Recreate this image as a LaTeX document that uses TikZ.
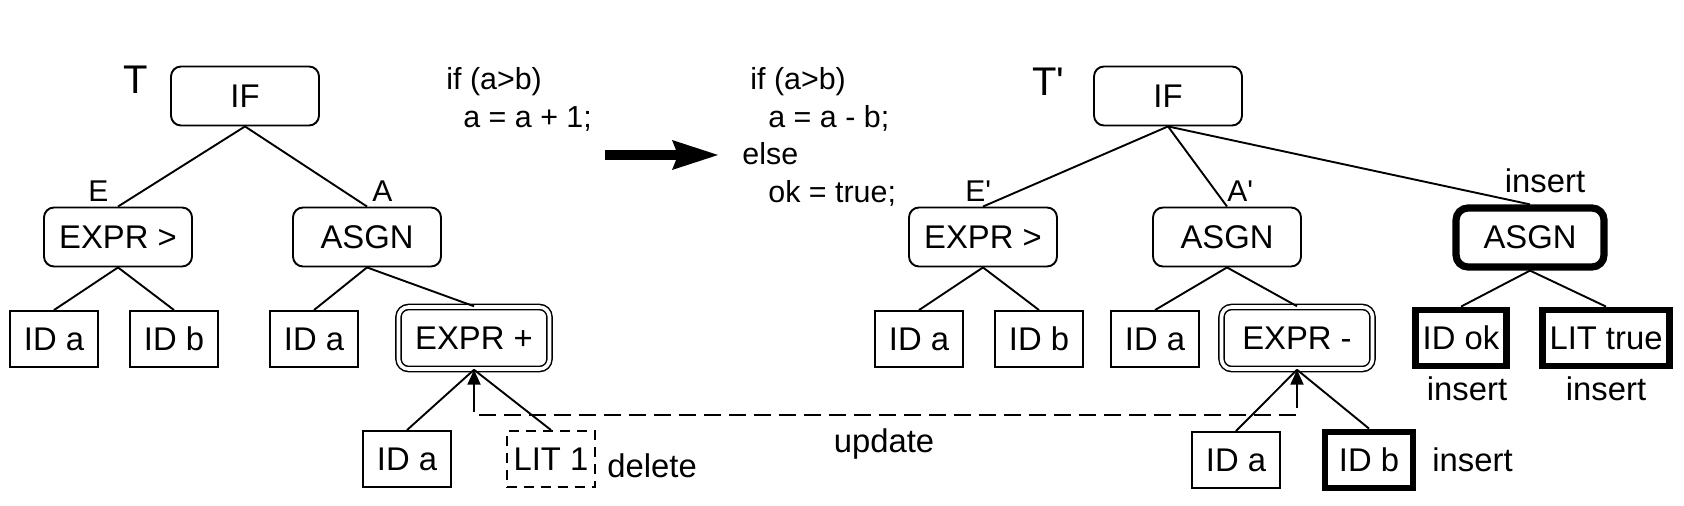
\documentclass[tikz,border=0pt]{standalone}
\usepackage{fontspec}
\newfontfamily\arialf{Liberation Sans}
\usetikzlibrary{arrows.meta}
\tikzset{
  nodefont/.style={font=\arialf\fontsize{16.4}{19}\selectfont},
  lbl/.style={nodefont, inner sep=0pt},
  code/.style={font=\arialf\fontsize{15.2}{18}\selectfont, inner sep=0pt, anchor=base west},
  treelbl/.style={font=\arialf\fontsize{20}{24}\selectfont, inner sep=0pt, anchor=base west},
  edgelbl/.style={font=\arialf\fontsize{15}{18}\selectfont, inner sep=0pt, anchor=base west},
  rbox/.style={draw, nodefont, rounded corners=5pt, line width=0.95pt, minimum width=74pt, minimum height=29.5pt, inner sep=0pt},
  dbox/.style={rbox, double, double distance=1.8pt, line width=0.75pt, minimum width=75.5pt, minimum height=31pt},
  tbox/.style={rbox, line width=3.6pt, rounded corners=6pt},
  sbox/.style={draw, nodefont, line width=0.95pt, minimum width=44pt, minimum height=28pt, inner xsep=3.5pt, inner ysep=0pt},
  sthick/.style={sbox, line width=3.4pt},
  sdash/.style={sbox, dash pattern=on 5pt off 3.5pt},
  treeedge/.style={line width=0.95pt},
  updline/.style={line width=0.95pt, dash pattern=on 8.5pt off 4pt},
  updarrow/.style={line width=1.1pt, solid, -{Triangle[length=7.5pt,width=6.5pt]}},
}
\begin{document}
\begin{tikzpicture}[x=0.5pt,y=-0.5pt]
\useasboundingbox (0,0) rectangle (1684,506);

% ---------- left tree T ----------
\node[treelbl] (T) at (123,94) {T};
\node[rbox] (if1) at (245,96) {IF};
\node[rbox] (ex1) at (118,237) {EXPR >};
\node[rbox] (as1) at (367,237) {ASGN};
\node[edgelbl] (E) at (88,202) {E};
\node[edgelbl] (A) at (372,202) {A};
\node[sbox] (ida1) at (54,339) {ID a};
\node[sbox] (idb1) at (174,339) {ID b};
\node[sbox] (ida2) at (314,339) {ID a};
\node[dbox] (expl) at (474,338) {EXPR +};
\node[sbox] (ida3) at (407,459) {ID a};
\node[sdash] (lit1) at (551,459) {LIT 1};
\node[lbl, anchor=base west] (del) at (607,478) {delete};

\draw[treeedge] (if1.south) -- (ex1.north);
\draw[treeedge] (if1.south) -- (as1.north);
\draw[treeedge] (ex1.south) -- (ida1.north);
\draw[treeedge] (ex1.south) -- (idb1.north);
\draw[treeedge] (as1.south) -- (ida2.north);
\draw[treeedge] (as1.south) -- (expl.north);
\draw[treeedge] (expl.south) -- (ida3.north);
\draw[treeedge] (expl.south) -- (lit1.north);

% ---------- code ----------
\node[code] (c1) at (446,90) {if (a>b)};
\node[code] (c2) at (463,128) {a = a + 1;};
\node[code] (c3) at (750,90) {if (a>b)};
\node[code] (c4) at (768,128) {a = a - b;};
\node[code] (c5) at (742,165) {else};
\node[code] (c6) at (768,203) {ok = true;};
\coordinate (arS) at (605,155);
\coordinate (arE) at (718,155);
\draw[line width=5pt, -{Stealth[length=23pt,width=15pt,inset=3pt,line width=0pt]}] (arS) -- (arE);

% ---------- right tree T' ----------
\node[treelbl] (T2) at (1032,96) {T'};
\node[rbox] (if2) at (1168,96) {IF};
\node[rbox] (ex2) at (983,237) {EXPR >};
\node[rbox] (as2) at (1227,237) {ASGN};
\node[tbox] (as3) at (1530,237.5) {ASGN};
\node[edgelbl] (E2) at (965,202) {E'};
\node[edgelbl] (A2) at (1227,202) {A'};
\node[lbl, anchor=base] (ins1) at (1545,193) {insert};
\node[sbox] (ida4) at (919,339) {ID a};
\node[sbox] (idb4) at (1039,339) {ID b};
\node[sbox] (ida5) at (1155,339) {ID a};
\node[dbox] (exmi) at (1297,338) {EXPR -};
\node[sthick] (idok) at (1461,338) {ID ok};
\node[sthick] (littrue) at (1606,338) {LIT true};
\node[lbl, anchor=base] (ins2) at (1467,401) {insert};
\node[lbl, anchor=base] (ins3) at (1606,401) {insert};
\node[sbox] (ida6) at (1236,460) {ID a};
\node[sthick] (idb6) at (1369,460) {ID b};
\node[lbl, anchor=base west] (ins4) at (1432,472) {insert};

\draw[treeedge] (if2.south) -- (ex2.north);
\draw[treeedge] (if2.south) -- (as2.north);
\draw[treeedge] (if2.south) -- (as3.north);
\draw[treeedge] (ex2.south) -- (ida4.north);
\draw[treeedge] (ex2.south) -- (idb4.north);
\draw[treeedge] (as2.south) -- (ida5.north);
\draw[treeedge] (as2.south) -- (exmi.north);
\draw[treeedge] (as3.south) -- (idok.north);
\draw[treeedge] (as3.south) -- (littrue.north);
\draw[treeedge] (exmi.south) -- (ida6.north);
\draw[treeedge] (exmi.south) -- (idb6.north);

% ---------- update ----------
\coordinate (ul) at (474,415);
\coordinate (ulA) at (474,395);
\coordinate (urA) at (1297,395);
\draw[updline] (ulA) -- (expl.south |- ul) -| (urA);
\draw[updarrow] (ulA) -- (expl.south);
\draw[updarrow] (urA) -- (exmi.south);
\node[lbl, anchor=base] (upd) at (884,453) {update};
\end{tikzpicture}
\end{document}
